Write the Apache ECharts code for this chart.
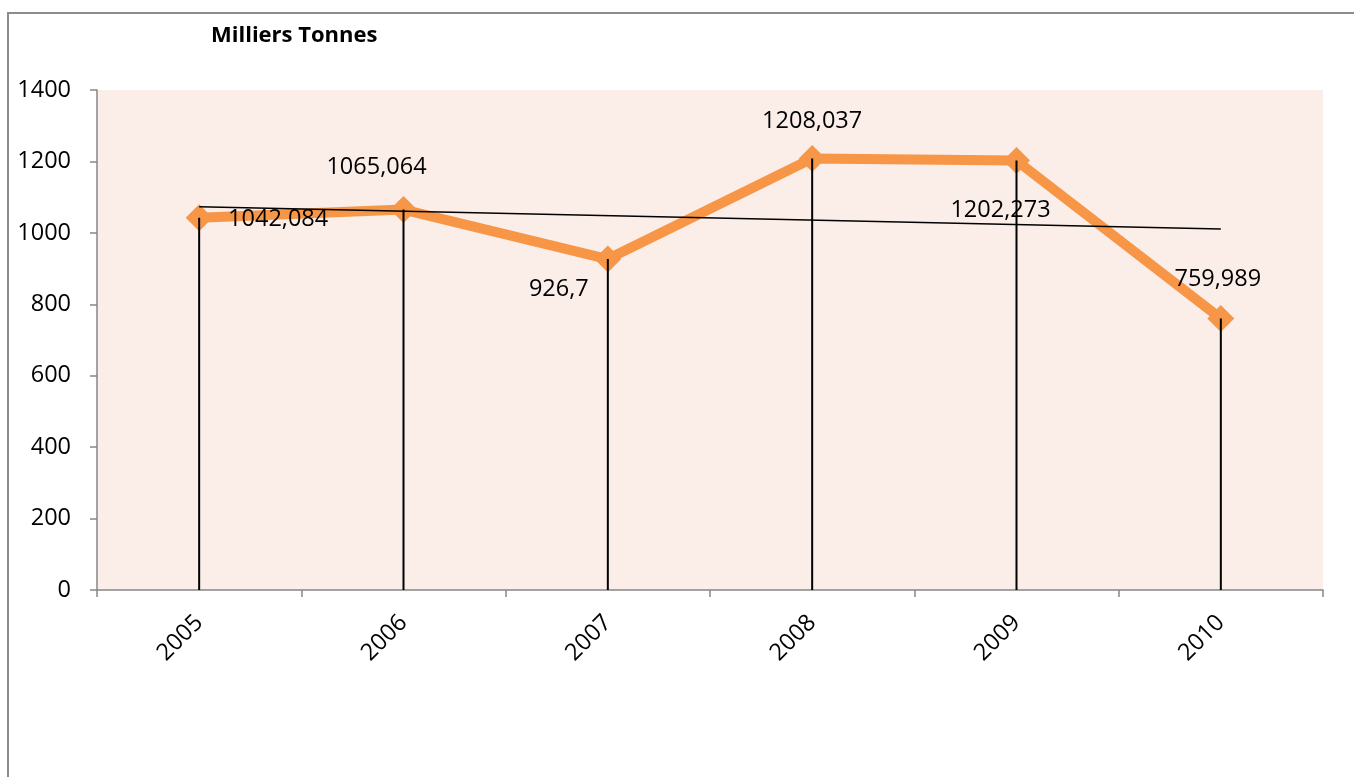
<!DOCTYPE html>
<html>
<head>
<meta charset="utf-8">
<title>Milliers Tonnes</title>
<script src="https://cdn.jsdelivr.net/npm/echarts@6/dist/echarts.min.js"></script>
<style>
  html, body { margin: 0; padding: 0; background: #ffffff; }
  #chart { width: 1354px; height: 777px; }
</style>
</head>
<body>
<div id="chart"></div>
<script>
// Production by year, in thousands of tonnes
const years = ['2005', '2006', '2007', '2008', '2009', '2010'];
const tonnes = [1042.084, 1065.064, 926.7, 1208.037, 1202.273, 759.989];
// Linear trend line end values (first and last year)
const trendEnds = [1073, 1011];
const yTicks = { min: 0, max: 1400, step: 200 };

// Per-point label offsets (px) around each marker
const labelOffsets = [[79, 1], [-27, -42], [-49, 30], [0, -37], [-16, 50], [-3, -39]];

const FONT = '"Open Sans", "Noto Sans", sans-serif';
const FS = 23.5;
const fmt = v => String(v).replace('.', ',');

const trendData = years.map((_, i) =>
  i === 0 ? trendEnds[0] : (i === years.length - 1 ? trendEnds[1] : null));

const chart = echarts.init(document.getElementById('chart'), null, { renderer: 'canvas' });

chart.setOption({
  animation: false,
  backgroundColor: '#ffffff',
  graphic: [
    {
      type: 'rect',
      shape: { x: 8, y: 13, width: 2000, height: 2000 },
      style: { fill: 'none', stroke: '#8c8c8c', lineWidth: 2 },
      silent: true,
      z: -10
    },
    {
      type: 'text',
      left: 211,
      top: 25,
      style: {
        text: 'Milliers Tonnes',
        font: 'bold 22px ' + FONT,
        fill: '#000000'
      }
    }
  ],
  grid: {
    left: 97, top: 90, right: 31, bottom: 187,
    show: true,
    backgroundColor: '#fbede8',
    borderWidth: 0
  },
  xAxis: {
    type: 'category',
    data: years,
    boundaryGap: true,
    axisLine: { show: true, lineStyle: { color: '#868686', width: 1.5 } },
    axisTick: { show: true, length: 7, lineStyle: { color: '#868686', width: 1.5 } },
    axisLabel: {
      rotate: 45,
      margin: 29,
      color: '#000000',
      fontSize: FS,
      fontFamily: FONT
    },
    splitLine: { show: false }
  },
  yAxis: {
    type: 'value',
    min: yTicks.min,
    max: yTicks.max,
    interval: yTicks.step,
    axisLine: { show: true, lineStyle: { color: '#868686', width: 1.5 } },
    axisTick: { show: true, length: 7, lineStyle: { color: '#868686', width: 1.5 } },
    axisLabel: {
      margin: 26,
      color: '#000000',
      fontSize: FS,
      fontFamily: FONT,
      formatter: v => String(v)
    },
    splitLine: { show: false }
  },
  series: [
    {
      name: 'Milliers Tonnes',
      type: 'line',
      data: tonnes,
      z: 2,
      lineStyle: { color: '#f79646', width: 10, cap: 'round', join: 'round' },
      symbol: 'diamond',
      symbolSize: 27,
      itemStyle: { color: '#f79646' },
      label: {
        show: true,
        position: 'inside',
        align: 'center',
        verticalAlign: 'middle',
        color: '#000000',
        fontSize: FS,
        fontFamily: FONT,
        formatter: p => fmt(p.value)
      },
      labelLayout: p => ({
        x: p.rect.x + p.rect.width / 2 + labelOffsets[p.dataIndex][0],
        y: p.rect.y + p.rect.height / 2 + labelOffsets[p.dataIndex][1],
        align: 'center',
        verticalAlign: 'middle'
      })
    },
    {
      // drop lines from each point to the category axis
      name: 'drop',
      type: 'bar',
      data: tonnes,
      barWidth: 2,
      z: 3,
      itemStyle: { color: '#000000' },
      silent: true
    },
    {
      name: 'Linéaire',
      type: 'line',
      data: trendData,
      connectNulls: true,
      z: 4,
      symbol: 'none',
      lineStyle: { color: '#000000', width: 1.5 },
      silent: true
    }
  ]
});
</script>
</body>
</html>
